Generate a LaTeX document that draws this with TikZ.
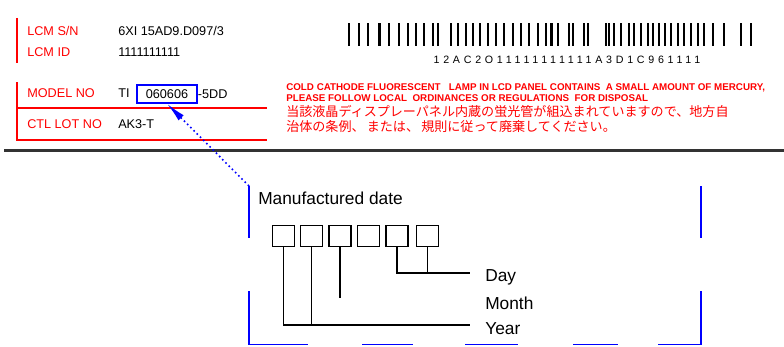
\documentclass[tikz,border=0pt]{standalone}
\usepackage{fontspec}
\setmainfont{Liberation Sans}
\newfontfamily\jpfont{Noto Sans CJK JP}
\newfontfamily\bcfont[LetterSpace=35]{Liberation Sans}
\usetikzlibrary{arrows.meta}

\begin{document}
\begin{tikzpicture}[x=0.75pt,y=-0.75pt]

      \tikzset{lbl/.style={anchor=west, inner sep=0pt, text=red, font=\fontsize{9.5}{10}\selectfont},
               val/.style={anchor=west, inner sep=0pt, font=\fontsize{9.5}{10}\selectfont},
               warn/.style={anchor=west, inner sep=0pt, text=red, font=\fontsize{7.35}{8}\bfseries},
               warnjp/.style={anchor=west, inner sep=0pt, text=red, font=\fontsize{9.8}{10}\jpfont},
               digit/.style={draw, line width=1.1pt, minimum width=16.5pt, minimum height=16pt, inner sep=0pt},
               part/.style={anchor=west, inner sep=0pt, font=\fontsize{13}{14}\selectfont},
               frame/.style={draw=blue, line width=1.2pt}}
      \useasboundingbox (0,0) rectangle (784,346);

% Label
	%Raekker
      	\node[lbl] (l1) at (27,31) {LCM S/N};
      	\node[lbl] (l2) at (27,52) {LCM ID};
      	\node[lbl] (l3) at (27,93) {MODEL NO};
      	\node[lbl] (l4) at (27,124) {CTL LOT NO};
      	\node[val] (v1) at (118,31) {6XI 15AD9.D097/3};
      	\node[val] (v2) at (118,52) {1111111111};
      	\node[val] (v3) at (118,93) {TI};
      	\node[draw=blue, line width=1pt, minimum width=45pt, minimum height=13.5pt, inner sep=1pt,
      	      font=\fontsize{9.5}{10}\selectfont] (datebox) at (167,94) {060606};
      	\node[val] (v3b) at (datebox.east) {-5DD};
      	\node[val] (v4) at (118,124) {AK3-T};
      	\draw[red, line width=1.1pt] (17,18) -- (17,63);
      	\draw[red, line width=1.1pt] (17,82) -- (17,140) -- (267,140);
      	\draw[red, line width=1.1pt] (17,108) -- (267,108);

	%Stregkode
      	\foreach \bx/\bw in {348/2, 358/1.5, 367/1.5, 378/3, 388/1.5, 398/1.5, 407/1.5, 415/1.5,
      	      423/2, 432/1.5, 437/1.5, 450/2, 457/1.5, 465/2, 472/1.5, 479/2, 487/1.5, 495/2,
      	      503/2, 512/2, 520/2, 528/2, 537/2, 545/2, 550/3, 557/1.5, 568/2, 572/1.5, 583/2,
      	      587/1.5, 605/2, 608/2, 613/1.5, 620/2, 628/1.5, 633/1.5, 640/2, 647/1.5, 652/1.5,
      	      658/2, 664/1.5, 670/1.5, 677/1.5, 683/2, 690/1.5, 697/1.5, 703/2, 712/1.5, 723/2,
      	      740/1.5, 750/2}
      	      \fill (\bx,23) rectangle ++(\bw,23);
      	\node[inner sep=0pt, font=\fontsize{8}{9}\bcfont] (bc) at (567,60) {12AC2O11111111111A3D1C961111};

	%Advarsel
      	\node[warn] (w1) at (286,88) {COLD CATHODE FLUORESCENT \ \ LAMP IN LCD PANEL CONTAINS \ A SMALL AMOUNT OF MERCURY,};
      	\node[warn] (w2) at (286,98) {PLEASE FOLLOW LOCAL \ ORDINANCES OR REGULATIONS \ FOR DISPOSAL};
      	\node[warnjp] (w3) at (286,112) {当該液晶ディスプレーパネル内蔵の蛍光管が組込まれていますので、地方自};
      	\node[warnjp] (w4) at (286,127) {治体の条例、\,または、\,規則に従って廃棄してください。};

      	\draw[line width=1.6pt, black!80] (4,150.5) -- (784,150.5);

% Dato
      	\node[part] (title) at (258,198) {Manufactured date};
      	\node[digit] (d1) at (283.5,236) {};
      	\node[digit] (d2) at (311.5,236) {};
      	\node[digit] (d3) at (340,236) {};
      	\node[digit] (d4) at (368.5,236) {};
      	\node[digit] (d5) at (397,236) {};
      	\node[digit] (d6) at (427.5,236) {};
      	\node[part] (day) at (485,277) {Day};
      	\node[part] (month) at (485,303) {Month};
      	\node[part] (year) at (485,329) {Year};
      	\coordinate (dend) at (470,273);
      	\coordinate (mend) at (340,298);
      	\coordinate (yend) at (470,325);

%Streger
      	\draw[line width=1.1pt] (d1.south) |- (yend);
      	\draw[line width=1.1pt] (d2.south) -- (d2.south |- yend);
      	\draw[line width=1.1pt] (d3.south) -- (mend);
      	\draw[line width=1.1pt] (d5.south) |- (dend);
      	\draw[line width=1.1pt] (d6.south) -- (d6.south |- dend);

	%Ramme
      	\draw[frame] (249,186) -- (249,238);
      	\draw[frame] (249,291) -- (249,344.5) -- (308,344.5);
      	\foreach \sx/\ex in {362/413, 465/518, 573/618}
      	      \draw[frame] (\sx,344.5) -- (\ex,344.5);
      	\draw[frame] (658,344.5) -- (701,344.5) -- (701,291);
      	\draw[frame] (701,186) -- (701,238);
      	\coordinate (corner) at (249,186);
      	\draw[blue, line width=1.2pt, dash pattern=on 1.2pt off 2.2pt, -{Latex[length=15pt, width=5.5pt]}]
      	      (corner) -- (datebox.south);

\end{tikzpicture}
\end{document}
